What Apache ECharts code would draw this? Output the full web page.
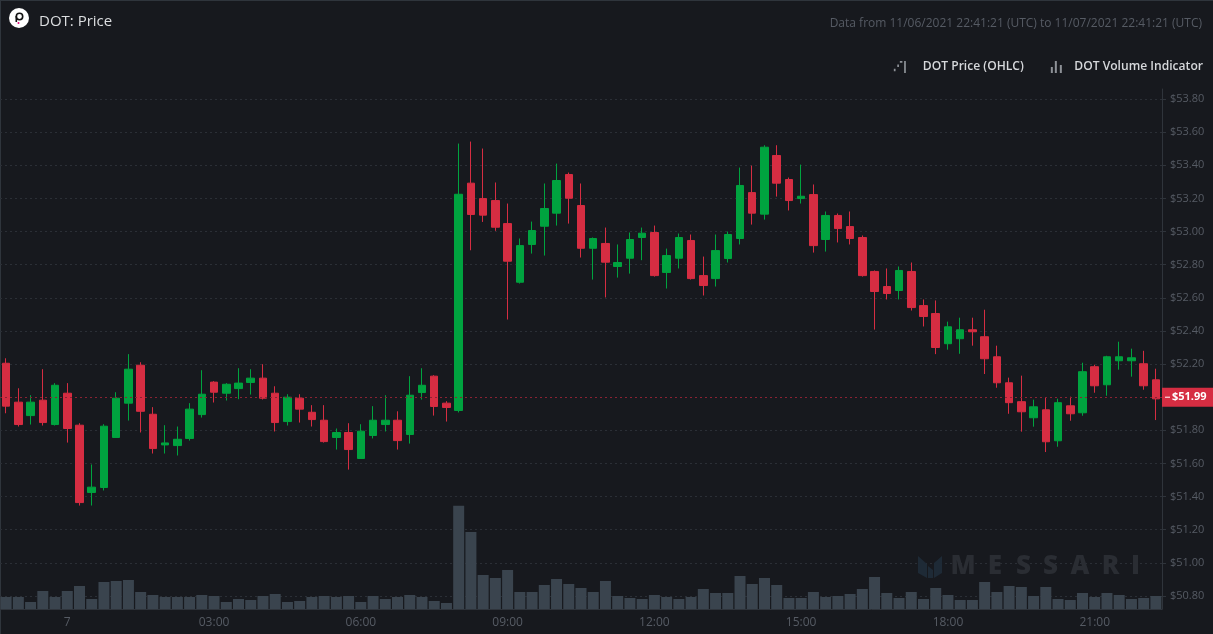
<!DOCTYPE html>
<html>
<head>
<meta charset="utf-8">
<style>html,body{margin:0;padding:0;background:#17191e;overflow:hidden}#c{width:1213px;height:634px}</style>
<script src="https://cdn.jsdelivr.net/npm/echarts@6/dist/echarts.min.js"></script>
</head>
<body>
<div id="c"></div>
<script>
const times = ['22:45','23:00','23:15','23:30','23:45','00:00','00:15','00:30','00:45','01:00','01:15','01:30','01:45','02:00','02:15','02:30','02:45','03:00','03:15','03:30','03:45','04:00','04:15','04:30','04:45','05:00','05:15','05:30','05:45','06:00','06:15','06:30','06:45','07:00','07:15','07:30','07:45','08:00','08:15','08:30','08:45','09:00','09:15','09:30','09:45','10:00','10:15','10:30','10:45','11:00','11:15','11:30','11:45','12:00','12:15','12:30','12:45','13:00','13:15','13:30','13:45','14:00','14:15','14:30','14:45','15:00','15:15','15:30','15:45','16:00','16:15','16:30','16:45','17:00','17:15','17:30','17:45','18:00','18:15','18:30','18:45','19:00','19:15','19:30','19:45','20:00','20:15','20:30','20:45','21:00','21:15','21:30','21:45','22:00','22:15'];
const opens = [52.205,51.97,51.889,51.982,51.835,52.024,51.831,51.425,51.455,51.757,51.964,52.193,51.897,51.712,51.708,51.751,51.895,52.091,52.024,52.052,52.089,52.115,52.024,51.853,51.994,51.909,51.861,51.757,51.787,51.63,51.769,51.835,51.861,51.775,52.028,52.127,51.964,51.92,53.292,53.199,53.187,53.048,52.694,52.922,53.032,53.111,53.344,53.157,52.899,52.928,52.789,52.839,52.964,52.994,52.753,52.839,52.946,52.734,52.716,52.837,52.958,53.235,53.105,53.459,53.314,53.199,53.223,52.952,53.097,53.03,52.964,52.759,52.668,52.644,52.759,52.553,52.505,52.323,52.353,52.407,52.365,52.244,52.087,51.973,51.876,51.924,51.737,51.948,51.906,52.184,52.075,52.22,52.22,52.202,52.105];
const closes = [51.946,51.835,51.97,51.847,52.072,51.811,51.364,51.457,51.825,51.994,52.169,51.915,51.69,51.724,51.746,51.928,52.018,52.03,52.078,52.085,52.115,51.994,51.847,52,51.928,51.865,51.732,51.787,51.684,51.795,51.861,51.861,51.738,52.012,52.072,51.944,51.938,53.225,53.103,53.099,53.026,52.821,52.915,53.006,53.139,53.308,53.201,52.899,52.958,52.815,52.813,52.952,52.99,52.734,52.855,52.964,52.716,52.674,52.885,52.982,53.278,53.111,53.509,53.292,53.187,53.213,52.915,53.097,53.018,52.958,52.734,52.638,52.626,52.765,52.541,52.487,52.3,52.425,52.407,52.395,52.232,52.087,51.967,51.912,51.942,51.731,51.967,51.9,52.154,52.069,52.244,52.244,52.238,52.069,51.99];
const lows = [51.903,51.823,51.835,51.829,51.829,51.726,51.346,51.346,51.437,51.757,51.859,51.787,51.66,51.66,51.648,51.738,51.877,51.968,51.98,51.988,52.016,51.986,51.793,51.829,51.847,51.823,51.726,51.684,51.563,51.63,51.751,51.793,51.684,51.72,51.986,51.889,51.853,51.908,52.887,53.058,53.004,52.469,52.686,52.867,52.855,53.036,53.048,52.843,52.71,52.602,52.722,52.746,52.827,52.728,52.656,52.777,52.71,52.614,52.668,52.813,52.922,53.042,53.072,53.211,53.127,53.169,52.873,52.879,52.934,52.922,52.728,52.408,52.59,52.59,52.523,52.427,52.26,52.287,52.262,52.311,52.14,52.057,51.9,51.792,51.822,51.669,51.701,51.858,51.888,52.027,52.009,52.166,52.124,52.045,51.862];
const highs = [52.235,52.054,52.012,52.169,52.085,52.085,51.843,51.594,51.837,52.03,52.26,52.211,51.94,51.831,51.823,51.964,52.163,52.097,52.085,52.175,52.169,52.199,52.066,52.018,52.018,51.952,51.952,51.811,51.843,51.837,51.946,52.012,51.915,52.127,52.175,52.133,51.976,53.531,53.543,53.501,53.296,53.169,52.958,53.06,53.29,53.41,53.356,53.29,52.964,53.024,52.922,52.994,53.024,53.036,52.897,52.988,52.982,52.849,52.982,53,53.386,53.398,53.521,53.521,53.326,53.404,53.284,53.121,53.109,53.121,52.976,52.765,52.777,52.789,52.813,52.59,52.584,52.456,52.48,52.48,52.528,52.311,52.118,52.13,51.985,51.997,51.991,52.003,52.208,52.196,52.25,52.335,52.293,52.28,52.172];
const volumes = [36,36,21,54,36,54,69,30,81,84,87,51,42,36,36,36,42,39,21,30,27,39,45,21,24,36,39,36,39,21,39,30,36,42,36,24,18,310,231,102,93,117,51,51,72,90,75,63,51,84,39,33,30,42,36,30,36,60,48,48,99,75,93,72,33,33,51,36,39,45,60,96,48,33,51,30,63,42,27,27,81,51,69,66,39,66,30,27,48,36,48,42,30,33,39];
const priceTicksMin = 50.8, priceTicksMax = 53.8, priceTickStep = 0.2;
const lastPriceLabel = '$51.99';
const lastPriceLevel = 51.998;
const volumeAxisMax = 1560;

const RED = '#d62d42', GREEN = '#00a33f', MUTED = '#565b64', GRID = '#2b2f36', BG = '#17191e';
const FONT = '"Open Sans", sans-serif';
const candleData = opens.map((o, i) => [o, closes[i], lows[i], highs[i]]);
const isLabelled = (i) => i >= 5 && (i - 5) % 12 === 0;

const watermarkLetters = [['M',963],['E',995],['S',1023.5],['S',1050.5],['A',1080],['R',1110.5],['I',1135.5]];
const legendText = {color: '#d6d8db', fontSize: 12.1, fontWeight: 600, fontFamily: FONT};
const chart = echarts.init(document.getElementById('c'));
chart.setOption({
  animation: false,
  backgroundColor: BG,
  title: [
    {text: 'DOT: Price', left: 34, top: 9, textStyle: {color: '#dcdee0', fontSize: 15, fontWeight: 400, fontFamily: FONT}},
    {text: 'Data from 11/06/2021 22:41:21 (UTC) to 11/07/2021 22:41:21 (UTC)', right: 6, top: 13, textStyle: {color: MUTED, fontSize: 12, fontWeight: 400, fontFamily: FONT}}
  ],
  legend: {
    right: 5, top: 56, itemWidth: 14, itemHeight: 12, itemGap: 27, selectedMode: false,
    textStyle: legendText,
    data: [
      {name: 'DOT Price (OHLC)', icon: 'path://M0 12H2V9H0ZM4 7H6V4H4ZM7 2H10V0H7ZM12 0H14V14H12Z', itemStyle: {color: '#8d9197', borderWidth: 0},
        textStyle: Object.assign({padding: [0, 0, 0, 11]}, legendText)},
      {name: 'DOT Volume Indicator', icon: 'path://M0 8H2V14H0ZM4 2H6V14H4ZM9 6H11V14H9Z', itemStyle: {color: '#8d9197', borderWidth: 0},
        textStyle: Object.assign({padding: [0, 0, 0, 6]}, legendText)}
    ]
  },
  grid: [
    {left: 0, top: 89, width: 1162, height: 520},
    {left: 0, top: 99, width: 1162, height: 497}
  ],
  xAxis: [
    {type: 'category', gridIndex: 0, data: times, boundaryGap: true,
      axisLine: {lineStyle: {color: '#2f343b'}},
      axisTick: {alignWithLabel: true, length: 3, interval: (i) => isLabelled(i), lineStyle: {color: '#2f343b'}},
      axisLabel: {interval: (i) => isLabelled(i), color: MUTED, fontSize: 12, fontFamily: FONT, margin: 8, formatter: (v) => v === '00:00' ? '7' : v},
      splitLine: {show: false}},
    {type: 'category', gridIndex: 1, data: times, boundaryGap: true, show: false}
  ],
  yAxis: [
    {type: 'value', gridIndex: 0, position: 'right', min: 0, max: volumeAxisMax,
      axisLine: {show: true, lineStyle: {color: '#2f343b'}}, axisTick: {show: false}, axisLabel: {show: false}, splitLine: {show: false}},
    {type: 'value', gridIndex: 1, position: 'right', min: priceTicksMin, max: priceTicksMax, interval: priceTickStep,
      axisLine: {show: false}, axisTick: {show: true, length: 4, lineStyle: {color: '#2f343b'}},
      axisLabel: {color: MUTED, fontSize: 11, fontFamily: FONT, margin: 8, padding: [2, 0, 0, 0], formatter: (v) => '$' + v.toFixed(2)},
      splitLine: {show: true, lineStyle: {color: GRID, type: [2, 3], width: 1}}}
  ],
  series: [
    {name: 'DOT Volume Indicator', type: 'bar', xAxisIndex: 0, yAxisIndex: 0, data: volumes, barWidth: 11, itemStyle: {color: '#3a444e'}, silent: true, z: 2},
    {name: 'DOT Price (OHLC)', type: 'candlestick', xAxisIndex: 1, yAxisIndex: 1, data: candleData, barWidth: 8, z: 3,
      itemStyle: {color: GREEN, color0: RED, borderColor: GREEN, borderColor0: RED, borderWidth: 1},
      markLine: {silent: true, symbol: ['none', 'none'], animation: false, z: 4,
        emphasis: {disabled: true},
        label: {position: 'end', distance: 0, color: '#fff', fontSize: 11, fontWeight: 700, fontFamily: FONT,
          backgroundColor: RED, padding: [4, 8, 4, 3],
          formatter: () => '{tick| }{v|' + lastPriceLabel + '}',
          rich: {tick: {width: 5, height: 1, backgroundColor: '#fff', verticalAlign: 'middle'},
                 v: {color: '#fff', fontSize: 11, fontWeight: 700, fontFamily: FONT, padding: [0, 0, 0, 2]}}},
        data: [{yAxis: lastPriceLevel, lineStyle: {color: '#8a2233', type: [2, 3], width: 1, opacity: 1}}]}}
  ],
  graphic: [
    {type: 'rect', shape: {x: 0, y: 0, width: 1213, height: 1}, style: {fill: '#2f353c'}, silent: true},
    {type: 'rect', shape: {x: 0, y: 0, width: 1, height: 634}, style: {fill: '#2f353c'}, silent: true},
    {type: 'circle', shape: {cx: 19, cy: 18, r: 10}, style: {fill: '#ffffff'}, silent: true},
    {type: 'ring', shape: {cx: 19.5, cy: 16.5, r: 4, r0: 2.4}, style: {fill: '#111'}, silent: true},
    {type: 'rect', shape: {x: 15.5, y: 16, width: 1.6, height: 6}, style: {fill: '#111'}, silent: true},
    {type: 'circle', shape: {cx: 18.5, cy: 23, r: 1}, style: {fill: '#e6007a'}, silent: true},
    {type: 'polygon', shape: {points: [[918,556],[927,564],[927,578],[918,573]]}, style: {fill: '#1e2a36'}, silent: true, z: 1},
    {type: 'polygon', shape: {points: [[928,566],[933,570],[933,578],[928,578]]}, style: {fill: '#1e2a36'}, silent: true, z: 1},
    {type: 'polygon', shape: {points: [[934,563],[942,556],[942,573],[934,578]]}, style: {fill: '#1e2a36'}, silent: true, z: 1}
  ].concat(watermarkLetters.map(([ch, x]) => ({
    type: 'text', x: x, y: 567, silent: true, z: 1,
    style: {text: ch, fill: '#2a2d33', font: '800 26px ' + FONT, textAlign: 'center', textVerticalAlign: 'middle'}
  })))
});
</script>
</body>
</html>
